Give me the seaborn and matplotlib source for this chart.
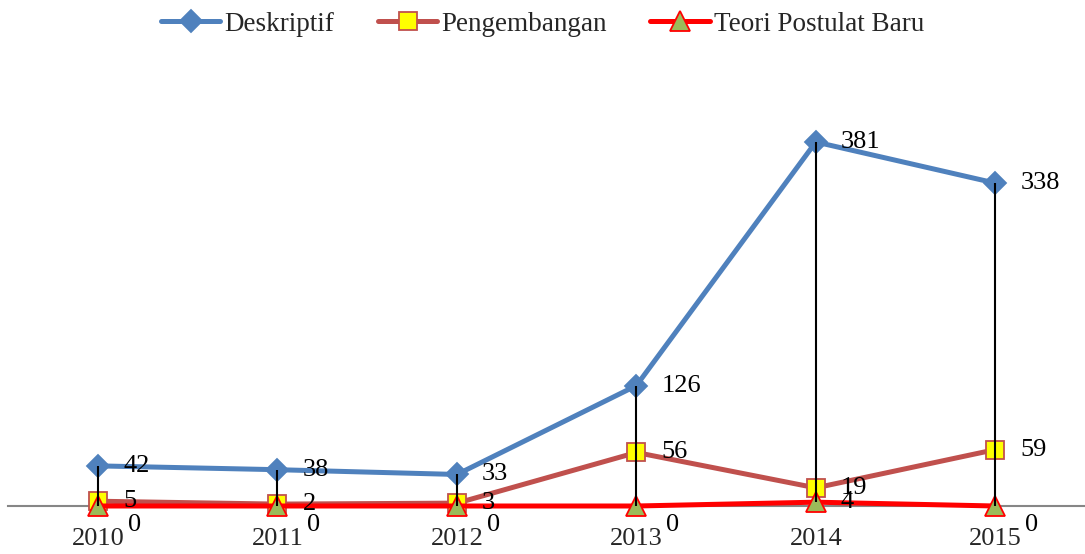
"""Jumlah penelitian per tahun menurut jenis (Deskriptif, Pengembangan, Teori Postulat Baru)."""

import matplotlib

matplotlib.use("Agg")
import matplotlib.pyplot as plt
import numpy as np
import pandas as pd
import seaborn as sns

TAHUN = [2010, 2011, 2012, 2013, 2014, 2015]
DESKRIPTIF = [42, 38, 33, 126, 381, 338]
PENGEMBANGAN = [5, 2, 3, 56, 19, 59]
TEORI = [0, 0, 0, 0, 4, 0]
SERI = ["Deskriptif", "Pengembangan", "Teori Postulat Baru"]

GAYA = {
    "Deskriptif": dict(color="#4F81BD", marker="D", mfc="#4F81BD", mec="#4F81BD", ms=11),
    "Pengembangan": dict(color="#C0504D", marker="s", mfc="#FFFF00", mec="#C0504D", ms=13),
    "Teori Postulat Baru": dict(color="#FF0000", marker="^", mfc="#9BBB59", mec="#FF0000", ms=14),
}


def main() -> None:
    sns.set_style("white")
    plt.rcParams["font.family"] = ["Liberation Serif", "DejaVu Serif"]

    df = pd.DataFrame(
        {"tahun": TAHUN * 3,
         "jumlah": DESKRIPTIF + PENGEMBANGAN + TEORI,
         "jenis": np.repeat(SERI, len(TAHUN))}
    )

    W, H = 1085, 554
    fig = plt.figure(figsize=(W / 100, H / 100), dpi=100)
    ymax = 400
    y0_px, y381_px = 506, 142
    top_px = y0_px - (y0_px - y381_px) * ymax / 381
    left_px = 8.3
    ax = fig.add_axes([left_px / W, 1 - y0_px / H, 1 - left_px / W, (y0_px - top_px) / H])

    for nama in SERI:
        g = GAYA[nama]
        sub = df[df["jenis"] == nama]
        sns.lineplot(data=sub, x="tahun", y="jumlah", ax=ax, color=g["color"], lw=3.6,
                     marker=g["marker"], markersize=g["ms"], markerfacecolor=g["mfc"],
                     markeredgecolor=g["mec"], markeredgewidth=1.3, label=nama,
                     clip_on=False, zorder=3)

    # garis high-low
    lebar = df.pivot(index="tahun", columns="jenis", values="jumlah")
    ax.vlines(lebar.index, lebar.min(axis=1), lebar.max(axis=1), color="black", lw=1.5,
              zorder=5, clip_on=False)

    # label data
    for nama in SERI:
        sub = df[df["jenis"] == nama]
        for x, y in zip(sub["tahun"], sub["jumlah"]):
            nol = nama == "Teori Postulat Baru" and y == 0
            ax.annotate(str(y), (x, y), xytext=(30 if nol else 25, -19 if nol else 0),
                        textcoords="offset pixels", ha="left", va="center",
                        fontsize=19, color="black", zorder=6)

    ax.set_xlim(TAHUN[0] - 0.5, TAHUN[-1] + 0.5)
    ax.set_ylim(0, ymax)
    ax.set_xticks(TAHUN)
    ax.set_xticklabels([str(t) for t in TAHUN], fontsize=19)
    ax.tick_params(axis="x", length=0, pad=16)
    ax.set_yticks([])
    ax.set_xlabel("")
    ax.set_ylabel("")
    for s in ["top", "left", "right"]:
        ax.spines[s].set_visible(False)
    ax.spines["bottom"].set_color("#868686")
    ax.spines["bottom"].set_linewidth(1.5)
    ax.spines["bottom"].set_zorder(1)

    ax.legend(loc="upper center", bbox_to_anchor=(0.5, (H - 1) / H), bbox_transform=fig.transFigure,
              ncol=3, frameon=False, fontsize=19.5, handlelength=2.2, handletextpad=0.15,
              columnspacing=1.6, borderaxespad=0)

    fig.savefig("out.png", dpi=100)
    plt.close(fig)


if __name__ == "__main__":
    main()
